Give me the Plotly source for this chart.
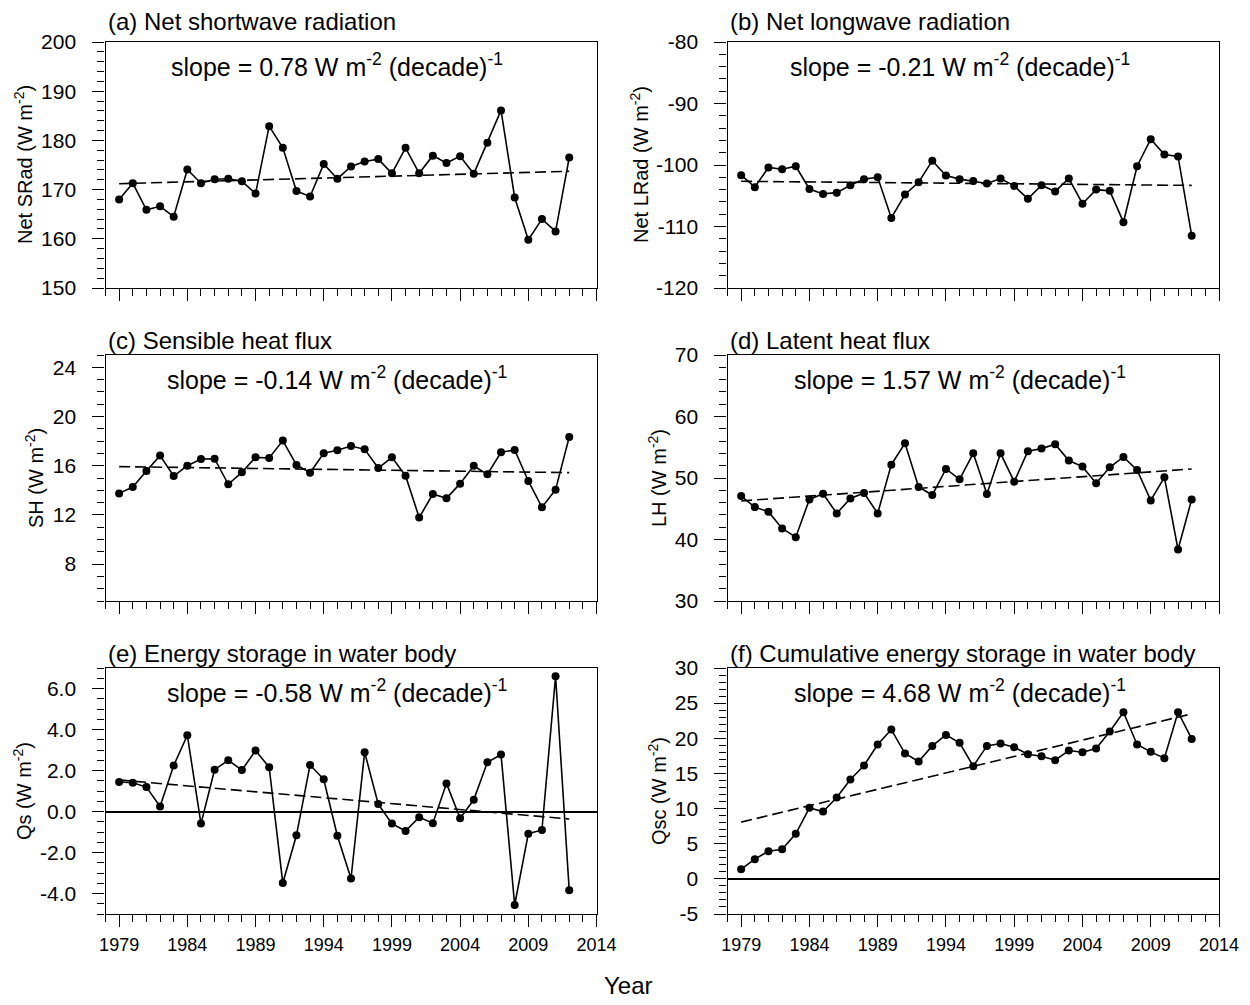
import numpy as np
import plotly.graph_objects as go

# ---------------- data ----------------
years = list(range(1979, 2013))

net_srad = [168.0, 171.3, 165.9, 166.6, 164.5, 174.1, 171.3, 172.1, 172.2, 171.7,
            169.2, 182.9, 178.5, 169.7, 168.6, 175.2, 172.2, 174.7, 175.7, 176.2,
            173.3, 178.5, 173.3, 176.9, 175.4, 176.8, 173.2, 179.5, 186.1, 168.4,
            159.8, 164.0, 161.5, 176.5]
net_lrad = [-101.65, -103.6, -100.4, -100.7, -100.2, -103.9, -104.7, -104.5, -103.3, -102.3,
            -102.0, -108.6, -104.8, -102.8, -99.3, -101.7, -102.3, -102.6, -103.0, -102.2,
            -103.4, -105.5, -103.3, -104.3, -102.2, -106.3, -104.0, -104.2, -109.3, -100.2,
            -95.8, -98.3, -98.6, -111.5]
sh = [13.75, 14.27, 15.57, 16.82, 15.16, 16.0, 16.54, 16.57, 14.49, 15.46,
      16.68, 16.63, 18.04, 16.06, 15.43, 17.01, 17.25, 17.60, 17.33, 15.81,
      16.68, 15.19, 11.78, 13.70, 13.35, 14.54, 16.0, 15.30, 17.09, 17.28,
      14.76, 12.62, 14.05, 18.33]
lh = [47.07, 45.27, 44.51, 41.79, 40.38, 46.52, 47.45, 44.24, 46.68, 47.55,
      44.24, 52.17, 55.65, 48.53, 47.23, 51.47, 49.78, 54.02, 47.39, 54.02,
      49.4, 54.35, 54.78, 55.49, 52.83, 51.85, 49.13, 51.74, 53.42, 51.30,
      46.36, 50.11, 38.37, 46.52]
qs = [1.44, 1.40, 1.19, 0.24, 2.24, 3.72, -0.59, 2.04, 2.50, 2.02,
      2.97, 2.16, -3.49, -1.16, 2.27, 1.57, -1.18, -3.27, 2.89, 0.36,
      -0.59, -0.95, -0.28, -0.57, 1.37, -0.33, 0.57, 2.40, 2.78, -4.56,
      -1.08, -0.90, 6.60, -3.84]
qsc = [1.38, 2.80, 3.94, 4.22, 6.40, 10.10, 9.58, 11.57, 14.13, 16.12,
       19.11, 21.24, 17.83, 16.69, 18.92, 20.48, 19.35, 16.03, 18.92, 19.25,
       18.73, 17.73, 17.45, 16.88, 18.26, 18.02, 18.54, 20.96, 23.71, 19.11,
       18.07, 17.16, 23.71, 19.91]

series = [net_srad, net_lrad, sh, lh, qs, qsc]
panel_titles = ["(a) Net shortwave radiation", "(b) Net longwave radiation",
                "(c) Sensible heat flux", "(d) Latent heat flux",
                "(e) Energy storage in water body",
                "(f) Cumulative energy storage in water body"]
slope_values = ["0.78", "-0.21", "-0.14", "1.57", "-0.58", "4.68"]
y_titles = ["Net SRad", "Net LRad", "SH", "LH", "Qs", "Qsc"]
y_ranges = [[150, 200], [-120, -80], [5, 25], [30, 70], [-5, 7], [-5, 30]]
y_tickvals = [[150, 160, 170, 180, 190, 200],
              [-120, -110, -100, -90, -80],
              [8, 12, 16, 20, 24],
              [30, 40, 50, 60, 70],
              [-4.0, -2.0, 0.0, 2.0, 4.0, 6.0],
              [-5, 0, 5, 10, 15, 20, 25, 30]]
y_minor = [2, 2, 1, 2, 0.5, 1]
y_format = ["{:.0f}", "{:.0f}", "{:.0f}", "{:.0f}", "{:.1f}", "{:.0f}"]
x_range = [1978, 2014]
x_tickvals = [1979, 1984, 1989, 1994, 1999, 2004, 2009, 2014]

# ---------------- layout geometry (screen pixels) ----------------
OFF = 8                       # page body margin of the html page
W, H = 1250 - OFF, 1005 - OFF  # figure size so that it ends at the window edge
col_px = [(105.5, 596.5), (727.5, 1219.0)]
row_px = [(42, 288), (355, 601), (668, 914)]
title_offset = [20, 15, 15]
ytitle_x = [24, 640, 34, 657, 22, 657]

FONT = "Liberation Sans, Arial, Helvetica, sans-serif"
INK = "#000000"

def px_x(p):
    return (p - OFF) / W

def px_y(p):
    return 1 - (p - OFF) / H

fig = go.Figure()
layout = dict(
    template="none",
    width=W, height=H,
    margin=dict(l=0, r=0, t=0, b=0, pad=0),
    paper_bgcolor="white", plot_bgcolor="white",
    showlegend=False,
    font=dict(family=FONT, color=INK),
    annotations=[],
)

for i in range(6):
    r, c = divmod(i, 2)
    n = i + 1
    xs = "" if n == 1 else str(n)
    x0, x1 = col_px[c]
    y0, y1 = row_px[r]
    vals = series[i]

    fig.add_trace(go.Scatter(
        x=years, y=vals, mode="lines+markers",
        line=dict(color=INK, width=1.6),
        marker=dict(color=INK, size=8),
        xaxis="x" + xs, yaxis="y" + xs, hoverinfo="skip"))

    b, a = np.polyfit(years, vals, 1)
    tx = [years[0], years[-1]]
    fig.add_trace(go.Scatter(
        x=tx, y=[a + b * t for t in tx], mode="lines",
        line=dict(color=INK, width=1.6, dash="11px,5px"),
        xaxis="x" + xs, yaxis="y" + xs, hoverinfo="skip"))

    layout["xaxis" + xs] = dict(
        domain=[px_x(x0), px_x(x1)], anchor="y" + xs, automargin=False,
        range=x_range, tickmode="array", tickvals=x_tickvals,
        ticktext=[str(v) for v in x_tickvals],
        ticks="outside", ticklen=12, tickwidth=1.2, tickcolor=INK,
        minor=dict(ticks="outside", tick0=x_tickvals[0], dtick=1, ticklen=7,
                   tickwidth=1, tickcolor=INK, showgrid=False),
        showline=True, mirror=True, linecolor=INK, linewidth=1.3,
        showgrid=False, zeroline=False,
        showticklabels=(r == 2), tickfont=dict(size=18, family=FONT, color=INK),
        ticklabelstandoff=2,
    )
    layout["yaxis" + xs] = dict(
        domain=[px_y(y1), px_y(y0)], anchor="x" + xs, automargin=False,
        range=y_ranges[i], tickmode="array", tickvals=y_tickvals[i],
        ticktext=[y_format[i].format(v) for v in y_tickvals[i]],
        ticks="outside", ticklen=12, tickwidth=1.2, tickcolor=INK,
        minor=dict(ticks="outside", tick0=y_ranges[i][0], dtick=y_minor[i],
                   ticklen=7, tickwidth=1, tickcolor=INK, showgrid=False),
        showline=True, mirror=True, linecolor=INK, linewidth=1.3,
        showgrid=False,
        zeroline=(i >= 4), zerolinecolor=INK, zerolinewidth=1.8,
        tickfont=dict(size=21, family=FONT, color=INK),
        ticklabelstandoff=12,
    )

    # panel title
    layout["annotations"].append(dict(
        text=panel_titles[i], xref="paper", yref="paper",
        x=px_x(x0), y=px_y(y0 - title_offset[r]),
        xanchor="left", yanchor="middle", showarrow=False,
        font=dict(size=24, family=FONT, color=INK)))
    # slope text
    layout["annotations"].append(dict(
        text="slope = %s W m<sup>-2</sup> (decade)<sup>-1</sup>" % slope_values[i],
        xref="x" + xs, yref="paper", x=1995, y=px_y(y0 + 23),
        xanchor="center", yanchor="middle", showarrow=False,
        font=dict(size=25, family=FONT, color=INK)))
    # y-axis title
    layout["annotations"].append(dict(
        text=y_titles[i] + " (W m<sup>-2</sup>)", xref="paper", yref="paper",
        x=px_x(ytitle_x[i]), y=px_y((y0 + y1) / 2), textangle=-90,
        xanchor="center", yanchor="middle", showarrow=False,
        font=dict(size=20, family=FONT, color=INK)))

layout["annotations"].append(dict(
    text="Year", xref="paper", yref="paper", x=px_x(628), y=px_y(985),
    xanchor="center", yanchor="middle", showarrow=False,
    font=dict(size=24, family=FONT, color=INK)))

fig.update_layout(**layout)
fig.write_html("out.html")
